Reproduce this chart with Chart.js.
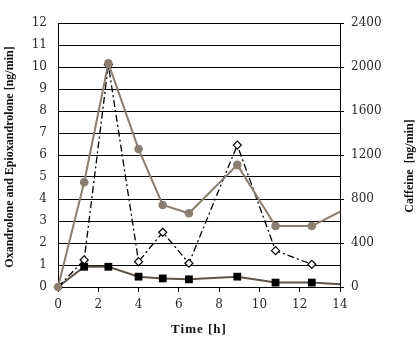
<!DOCTYPE html>
<html>
<head>
<meta charset="utf-8">
<script src="https://cdn.jsdelivr.net/npm/chart.js@4"></script>
<style>
  html, body { margin: 0; padding: 0; background: #fff; }
  #wrap { width: 419px; height: 344px; }
</style>
</head>
<body>
<div id="wrap"><canvas id="c" width="419" height="344"></canvas></div>
<script>
// Time points [h]
const times = [0, 1.3, 2.5, 4, 5.2, 6.5, 8.9, 10.8, 12.6, 14];
// Caffeine [ng/min] (right axis)
const caffeine = [0, 952, 2034, 1254, 746, 670, 1110, 554, 554, 684];
// Oxandrolone [ng/min] (left axis, diamonds)
const oxandrolone = [0, 1.23, 10.1, 1.15, 2.49, 1.08, 6.45, 1.65, 1.03, null];
// Epioxandrolone [ng/min] (left axis, squares)
const epioxandrolone = [0, 0.92, 0.92, 0.47, 0.39, 0.35, 0.47, 0.2, 0.2, 0.13];

const xTicks = [0, 2, 4, 6, 8, 10, 12, 14];
const leftTicks = [0, 1, 2, 3, 4, 5, 6, 7, 8, 9, 10, 11, 12];
const rightTicks = [0, 400, 800, 1200, 1600, 2000, 2400];

const xTitle = 'Time [h]';
const leftTitle = 'Oxandrolone and Epioxandrolone [ng/min]';
const rightTitle = 'Caffeine  [ng/min]';

const pts = (ys) => times.map((t, i) => ({ x: t, y: ys[i] }));
const radiiNoLast = (ys, r) => ys.map((v, i) => (i === ys.length - 1 ? 0 : r));

const tickFont = { family: 'DejaVu Serif', size: 12 };
const tickColor = '#2a2a2a';
const plain = (v) => String(v);

const titlesPlugin = {
  id: 'titles',
  afterDraw(chart) {
    const { ctx, chartArea } = chart;
    ctx.save();
    ctx.fillStyle = '#111';
    ctx.textAlign = 'center';
    ctx.textBaseline = 'middle';
    ctx.font = 'bold 12px "Liberation Serif"';
    // left
    ctx.save();
    ctx.translate(10, 157);
    ctx.rotate(-Math.PI / 2);
    ctx.fillText(leftTitle, 0, 0);
    ctx.restore();
    // right
    ctx.save();
    ctx.translate(410, 166);
    ctx.rotate(-Math.PI / 2);
    ctx.fillText(rightTitle, 0, 0);
    ctx.restore();
    // bottom
    ctx.font = 'bold 13px "Liberation Serif"';
    try { ctx.letterSpacing = '1px'; } catch (e) {}
    ctx.fillText(xTitle, (chartArea.left + chartArea.right) / 2, 330);
    ctx.restore();
  }
};

new Chart(document.getElementById('c'), {
  type: 'line',
  data: {
    datasets: [
      {
        label: 'Caffeine',
        data: pts(caffeine),
        yAxisID: 'y1',
        borderColor: '#8b7e70',
        backgroundColor: '#8b7e70',
        borderWidth: 2,
        pointStyle: 'circle',
        pointRadius: radiiNoLast(caffeine, 4.3),
        pointBorderWidth: 0,
        pointBackgroundColor: '#8b7e70',
        clip: false,
        tension: 0
      },
      {
        label: 'Oxandrolone',
        data: pts(oxandrolone),
        yAxisID: 'y',
        borderColor: '#000',
        borderWidth: 1.3,
        borderDash: [7, 3, 2, 3],
        pointStyle: 'rectRot',
        pointRadius: 4,
        pointBorderWidth: 1.2,
        pointBorderColor: '#000',
        pointBackgroundColor: '#fff',
        spanGaps: false,
        tension: 0
      },
      {
        label: 'Epioxandrolone',
        data: pts(epioxandrolone),
        yAxisID: 'y',
        borderColor: '#5e5349',
        borderWidth: 2,
        pointStyle: 'rect',
        pointRadius: radiiNoLast(epioxandrolone, 5.5),
        pointBorderWidth: 0,
        pointBackgroundColor: '#000',
        tension: 0
      }
    ]
  },
  options: {
    responsive: false,
    animation: false,
    layout: { padding: { top: 23, left: 0, right: 0, bottom: 0 } },
    plugins: { legend: { display: false }, tooltip: { enabled: false } },
    scales: {
      x: {
        type: 'linear',
        min: 0, max: 14,
        afterBuildTicks: (s) => { s.ticks = xTicks.map(v => ({ value: v })); },
        afterFit: (s) => { s.height = 57; },
        grid: { drawOnChartArea: false, drawTicks: true, tickLength: 5, color: '#000', lineWidth: 1 },
        border: { display: true, color: '#000', width: 1 },
        ticks: { font: tickFont, color: tickColor, padding: 6, maxRotation: 0, callback: plain }
      },
      y: {
        position: 'left',
        min: 0, max: 12,
        afterBuildTicks: (s) => { s.ticks = leftTicks.map(v => ({ value: v })); },
        afterFit: (s) => { s.width = 58; },
        grid: { drawOnChartArea: true, drawTicks: false, color: '#000', lineWidth: 1 },
        border: { display: true, color: '#000', width: 1 },
        ticks: { font: tickFont, color: tickColor, padding: 11, callback: plain }
      },
      y1: {
        position: 'right',
        min: 0, max: 2400,
        afterBuildTicks: (s) => { s.ticks = rightTicks.map(v => ({ value: v })); },
        afterFit: (s) => { s.width = 79; },
        grid: { drawOnChartArea: false, drawTicks: true, tickLength: 4, color: '#000', lineWidth: 1 },
        border: { display: true, color: '#000', width: 1 },
        ticks: { font: tickFont, color: tickColor, padding: 7, callback: plain }
      }
    }
  },
  plugins: [titlesPlugin]
});
</script>
</body>
</html>
